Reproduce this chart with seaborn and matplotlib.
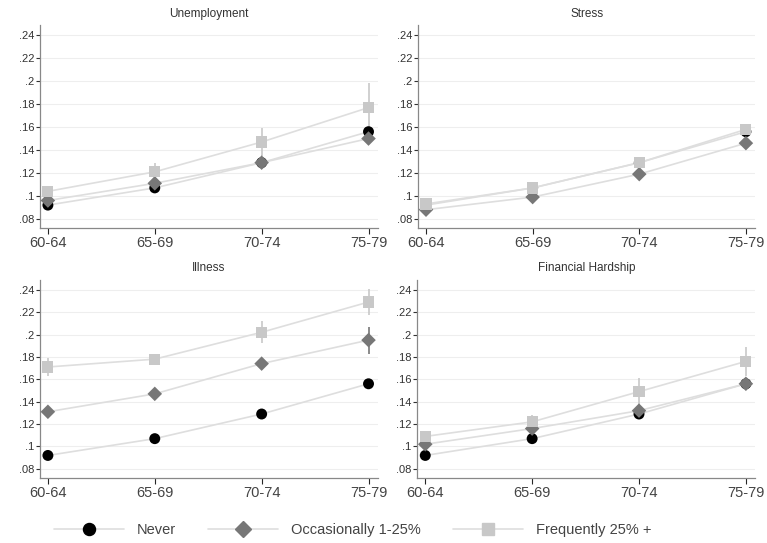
import numpy as np
import pandas as pd
import seaborn as sns
import matplotlib.pyplot as plt
from matplotlib.lines import Line2D
from matplotlib.ticker import FuncFormatter

# dados
idades = ["60-64", "65-69", "70-74", "75-79"]
paineis = ["Unemployment", "Stress", "Illness", "Financial Hardship"]
grupos = ["Never", "Occasionally 1-25%", "Frequently 25% +"]

never = [0.092, 0.107, 0.129, 0.156]
ocasional = {
    "Unemployment": [0.096, 0.111, 0.129, 0.150],
    "Stress": [0.088, 0.099, 0.119, 0.146],
    "Illness": [0.131, 0.147, 0.174, 0.195],
    "Financial Hardship": [0.102, 0.116, 0.132, 0.156],
}
frequente = {
    "Unemployment": [0.104, 0.121, 0.147, 0.177],
    "Stress": [0.093, 0.107, 0.129, 0.158],
    "Illness": [0.171, 0.178, 0.202, 0.229],
    "Financial Hardship": [0.109, 0.122, 0.149, 0.176],
}
# meia-amplitude dos intervalos (0 = não visível)
erro_ocasional = {
    "Unemployment": [0.0, 0.0, 0.0, 0.005],
    "Stress": [0.0, 0.0, 0.0, 0.0],
    "Illness": [0.005, 0.0, 0.0, 0.012],
    "Financial Hardship": [0.0, 0.0, 0.0, 0.0],
}
erro_frequente = {
    "Unemployment": [0.004, 0.008, 0.012, 0.021],
    "Stress": [0.0, 0.0, 0.0, 0.0],
    "Illness": [0.008, 0.0, 0.010, 0.012],
    "Financial Hardship": [0.0, 0.006, 0.012, 0.013],
}
y_ticks = [0.08, 0.10, 0.12, 0.14, 0.16, 0.18, 0.20, 0.22, 0.24]

cores = {"Never": "black", "Occasionally 1-25%": "#777777", "Frequently 25% +": "#c8c8c8"}
marcadores = {"Never": "o", "Occasionally 1-25%": "D", "Frequently 25% +": "s"}
tamanhos = {"Never": 62, "Occasionally 1-25%": 55, "Frequently 25% +": 65}
cor_linha = "#dedede"

linhas = []
for p in paineis:
    for i, idade in enumerate(idades):
        linhas.append((p, idade, i, "Never", never[i], 0.0))
        linhas.append((p, idade, i, "Occasionally 1-25%", ocasional[p][i], erro_ocasional[p][i]))
        linhas.append((p, idade, i, "Frequently 25% +", frequente[p][i], erro_frequente[p][i]))
df = pd.DataFrame(linhas, columns=["painel", "idade", "pos", "grupo", "valor", "erro"])

sns.set_style("white")
plt.rcParams["font.family"] = ["Liberation Sans", "DejaVu Sans"]

fig = plt.figure(figsize=(7.67, 5.43), dpi=100)
posicoes = [
    [0.052, 0.580, 0.441, 0.374],
    [0.545, 0.580, 0.440, 0.374],
    [0.052, 0.120, 0.441, 0.365],
    [0.544, 0.120, 0.441, 0.365],
]

fmt = FuncFormatter(lambda v, _: ("%g" % round(v, 2)).lstrip("0"))

for p, pos in zip(paineis, posicoes):
    ax = fig.add_axes(pos)
    d = df[df["painel"] == p]
    for g in grupos:
        dg = d[d["grupo"] == g]
        sns.lineplot(data=dg, x="pos", y="valor", color=cor_linha, lw=1.2, ax=ax,
                     legend=False, zorder=1)
    for g in grupos:
        dg = d[(d["grupo"] == g) & (d["erro"] > 0)]
        ax.errorbar(dg["pos"], dg["valor"], yerr=dg["erro"], fmt="none",
                    ecolor=cores[g], elinewidth=1.2, capsize=0, zorder=2)
    for g in grupos:
        dg = d[d["grupo"] == g]
        sns.scatterplot(data=dg, x="pos", y="valor", marker=marcadores[g],
                        color=cores[g], s=tamanhos[g], edgecolor="none", ax=ax,
                        legend=False, zorder=3)

    ax.set_xlim(-0.075, 3.09)
    ax.set_ylim(0.072, 0.249)
    ax.set_xticks(range(len(idades)))
    ax.set_xticklabels(idades, fontsize=10.5, color="#444444")
    ax.set_yticks(y_ticks)
    ax.yaxis.set_major_formatter(fmt)
    ax.tick_params(axis="y", labelsize=8, colors="#333333", length=3, width=0.8,
                   direction="out", left=True, pad=1)
    ax.tick_params(axis="x", length=4, width=0.8, direction="out", bottom=True, pad=2)
    ax.grid(axis="y", color="#eeeeee", lw=0.8)
    ax.set_axisbelow(True)
    for s in ["top", "right"]:
        ax.spines[s].set_visible(False)
    for s in ["left", "bottom"]:
        ax.spines[s].set_color("#888888")
        ax.spines[s].set_linewidth(0.9)
    ax.set_xlabel("")
    ax.set_ylabel("")
    ax.set_title(p, fontsize=8.5, color="#333333", pad=6)

handles = [
    Line2D([], [], color=cor_linha, lw=1.2, marker=marcadores[g], markersize=np.sqrt(tamanhos[g]) * 1.1,
           markerfacecolor=cores[g], markeredgecolor=cores[g])
    for g in grupos
]
fig.legend(handles, grupos, loc="center", bbox_to_anchor=(0.46, 0.024), ncol=3,
           frameon=False, fontsize=10.5, handlelength=4.8, columnspacing=2.2,
           handletextpad=0.9, labelcolor="#444444")

fig.savefig("out.png", dpi=100, facecolor="white")
